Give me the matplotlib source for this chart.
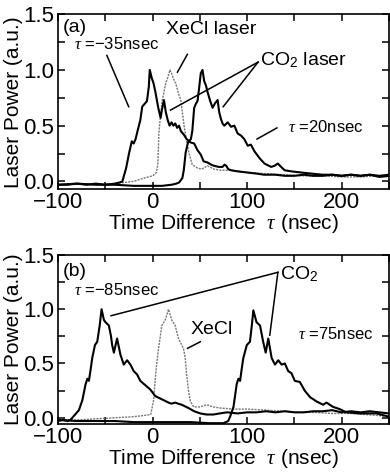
import matplotlib.pyplot as plt
from matplotlib.ticker import MultipleLocator

plt.rcParams['font.family'] = 'Liberation Sans'
plt.rcParams['mathtext.fontset'] = 'custom'
plt.rcParams['mathtext.rm'] = 'Liberation Sans'
plt.rcParams['mathtext.it'] = 'Liberation Serif:italic'

# panel (a): CO2 pulse at tau = -35 nsec
a_co2_1_t = [-100, -90, -80, -70, -60, -50, -40, -35, -32, -28, -25, -22, -20, -18, -16, -13, -11, -8, -6, -4,
             -3, -1, 1, 3, 6, 8.5, 10, 12, 14, 16, 18, 20, 22, 24, 26, 28, 30, 33, 36, 40, 44, 47.5, 51, 54, 58,
             62, 65, 70, 74, 76, 78, 80, 83, 90, 100, 110, 118, 130, 140, 150, 160, 170, 180, 190, 200, 210, 220,
             230, 240, 250]
a_co2_1_y = [-0.03, -0.03, -0.02, -0.03, -0.02, -0.03, -0.02, -0.01, 0.0, 0.12, 0.25, 0.36, 0.34, 0.38, 0.45, 0.55,
             0.67, 0.7, 0.72, 0.85, 1.0, 0.93, 0.88, 0.8, 0.66, 0.57, 0.65, 0.73, 0.62, 0.55, 0.5, 0.53, 0.5, 0.52,
             0.48, 0.5, 0.45, 0.42, 0.38, 0.35, 0.34, 0.28, 0.24, 0.18, 0.17, 0.15, 0.14, 0.13, 0.13, 0.15, 0.14,
             0.11, 0.10, 0.09, 0.08, 0.07, 0.06, 0.06, 0.05, 0.05, 0.06, 0.05, 0.05, 0.06, 0.05, 0.06, 0.05, 0.06,
             0.05, 0.06]

# panel (a): CO2 pulse at tau = 20 nsec
a_co2_2_t = [-100, -80, -60, -40, -20, 0, 10, 20, 25, 28, 31.5, 33, 35, 37.5, 40.5, 42, 44, 46, 47.5, 49, 51, 52.8,
             54.6, 56.5, 58.2, 61, 63.5, 66, 68.8, 70.5, 72.3, 74, 75.9, 79.5, 83, 86.5, 90, 93.7, 97, 100.7, 104,
             107.8, 113, 118.4, 125.5, 129, 132.6, 136, 139.7, 146.8, 157, 168, 180, 190, 200, 210, 220, 230, 240, 250]
a_co2_2_y = [-0.03, -0.02, -0.03, -0.03, -0.04, -0.04, -0.04, -0.03, -0.02, -0.01, 0.03, 0.1, 0.26, 0.35, 0.38, 0.45,
             0.66, 0.7, 0.72, 0.82, 0.97, 1.0, 0.9, 0.86, 0.8, 0.72, 0.66, 0.70, 0.73, 0.62, 0.56, 0.52, 0.5, 0.53,
             0.49, 0.5, 0.43, 0.41, 0.38, 0.32, 0.33, 0.27, 0.21, 0.16, 0.13, 0.14, 0.16, 0.13, 0.1, 0.09, 0.08, 0.07,
             0.06, 0.06, 0.05, 0.06, 0.05, 0.06, 0.04, 0.05]

# panel (a): XeCl pulse
a_xecl_t = [-100, -80, -60, -40, -30, -20, -9, 0, 1.4, 4, 5.5, 6.7, 8.5, 10.3, 12, 13.8, 16, 18.4, 20, 22, 24.5, 27,
            29.8, 31.5, 33.3, 36, 38.6, 42, 47.5, 52, 58, 65, 72, 83, 100, 118, 140, 160, 180, 200, 220, 240, 250]
a_xecl_y = [-0.03, -0.02, -0.03, -0.02, -0.01, 0.0, 0.03, 0.05, 0.06, 0.08, 0.15, 0.44, 0.6, 0.73, 0.8, 0.88, 0.93,
            1.0, 0.97, 0.92, 0.88, 0.8, 0.73, 0.62, 0.5, 0.36, 0.25, 0.15, 0.12, 0.11, 0.14, 0.11, 0.1, 0.1, 0.08,
            0.07, 0.06, 0.05, 0.05, 0.04, 0.04, 0.05, 0.04]

# panel (b): CO2 pulse at tau = -85 nsec
b_co2_1_t = [-100, -95, -90, -87, -85, -81, -78, -74.4, -70.9, -69, -67.4, -65.5, -63.9, -61, -58.6, -56, -54, -51.5,
             -49.8, -46.3, -44, -42.8, -41, -37.6, -34, -30.5, -27, -23.5, -20, -16.5, -13, -7.7, -2.4, 2.8, 9.8,
             16.8, 20, 23.9, 27, 30.8, 37.9, 44, 50.5, 57, 64.5, 71, 79, 90, 100, 110, 120, 130, 140, 150, 160, 170,
             180, 190, 200, 210, 220, 230, 240, 250]
b_co2_1_y = [-0.03, -0.02, -0.03, -0.02, 0.0, 0.04, 0.07, 0.16, 0.31, 0.36, 0.34, 0.45, 0.55, 0.67, 0.7, 0.85, 1.0,
             0.9, 0.88, 0.85, 0.75, 0.67, 0.6, 0.73, 0.58, 0.49, 0.53, 0.49, 0.43, 0.40, 0.34, 0.30, 0.26, 0.2, 0.17,
             0.14, 0.13, 0.14, 0.13, 0.12, 0.09, 0.06, 0.04, 0.03, 0.03, 0.04, 0.05, 0.04, 0.05, 0.05, 0.06, 0.05,
             0.06, 0.05, 0.05, 0.06, 0.06, 0.07, 0.05, 0.06, 0.05, 0.06, 0.05, 0.04]

# panel (b): XeCl pulse
b_xecl_t = [-100, -80, -60, -40, -20, -10, -2, 1, 3.5, 6.3, 9.8, 13.4, 16.8, 20.3, 23.9, 27.4, 32.6, 34.5, 36, 38, 40,
            43.5, 50, 57.5, 64, 71.5, 85, 100, 120, 140, 155, 170, 190, 210, 225, 240, 250]
b_xecl_y = [-0.02, -0.02, -0.01, 0.0, 0.01, 0.02, 0.03, 0.16, 0.43, 0.64, 0.85, 0.9, 1.0, 0.9, 0.85, 0.73, 0.64, 0.55,
            0.4, 0.25, 0.15, 0.1, 0.1, 0.12, 0.1, 0.09, 0.08, 0.08, 0.07, 0.06, 0.05, 0.05, 0.04, 0.04, 0.03, 0.02, 0.01]

# panel (b): CO2 pulse at tau = 75 nsec
b_co2_2_t = [-100, -80, -60, -40, -20, 0, 20, 40, 60, 75, 80, 82, 85.6, 89, 90.8, 92.6, 94.3, 96, 99.7, 103, 105,
             106.6, 110, 113.7, 117, 119.7, 122.4, 126, 129.5, 133, 136.5, 140, 143.5, 147, 150.5, 155.8, 161, 166.6,
             173.6, 180.5, 184, 191, 198, 205, 219, 237, 250]
b_co2_2_y = [-0.02, -0.03, -0.03, -0.03, -0.04, -0.04, -0.04, -0.04, -0.05, -0.05, -0.03, 0.01, 0.1, 0.31, 0.36, 0.34,
             0.45, 0.55, 0.67, 0.7, 0.85, 0.99, 0.88, 0.85, 0.7, 0.6, 0.73, 0.55, 0.49, 0.53, 0.49, 0.5, 0.43, 0.41,
             0.34, 0.33, 0.25, 0.19, 0.15, 0.12, 0.14, 0.1, 0.08, 0.05, 0.04, 0.04, 0.01]

fig = plt.figure(figsize=(3.9, 4.73), dpi=100)
ax1 = fig.add_axes([0.149, 0.600, 0.848, 0.370])
ax2 = fig.add_axes([0.149, 0.103, 0.848, 0.358])

co2_style = dict(color='black', lw=1.5)
xecl_style = dict(color='#777777', lw=1.0, linestyle=(0, (1.5, 0.8)))

ax1.plot(a_xecl_t, a_xecl_y, **xecl_style)
ax1.plot(a_co2_1_t, a_co2_1_y, **co2_style)
ax1.plot(a_co2_2_t, a_co2_2_y, **co2_style)

ax2.plot(b_xecl_t, b_xecl_y, **xecl_style)
ax2.plot(b_co2_1_t, b_co2_1_y, **co2_style)
ax2.plot(b_co2_2_t, b_co2_2_y, **co2_style)

for ax, ylo in [(ax1, -0.07), (ax2, -0.06)]:
    ax.set_xlim(-100, 250)
    ax.set_ylim(ylo, 1.5)
    ax.xaxis.set_major_locator(MultipleLocator(100))
    ax.xaxis.set_minor_locator(MultipleLocator(50))
    ax.yaxis.set_major_locator(MultipleLocator(0.5))
    ax.yaxis.set_minor_locator(MultipleLocator(0.25))
    ax.yaxis.set_major_formatter(plt.FormatStrFormatter('%.1f'))
    ax.tick_params(which='both', direction='in', top=True, right=True, width=1.1, labelsize=16)
    ax.tick_params(axis='x', pad=2)
    ax.tick_params(axis='y', pad=3)
    ax.tick_params(which='both', length=5)
    for s in ax.spines.values():
        s.set_linewidth(1.2)
    ax.set_ylabel('Laser Power (a.u.)', fontsize=15, labelpad=0)
    ax.set_xlabel(r'Time Difference  $\tau$ (nsec)', fontsize=15, labelpad=-1)

line_kw = dict(color='black', lw=1.1)

# annotations panel (a)
ax1.text(-95, 1.38, '(a)', fontsize=14, va='center')
ax1.text(-83, 1.23, r'$\tau$ =−35nsec', fontsize=12, va='center')
ax1.plot([-48.4, -25.3], [1.13, 0.67], **line_kw)
ax1.text(13.7, 1.36, 'XeCl laser', fontsize=14, va='center')
ax1.plot([36.8, 26.3], [1.14, 0.98], **line_kw)
ax1.text(113.7, 1.09, r'CO$_2$ laser', fontsize=14, va='center')
ax1.plot([111.6, 19], [1.07, 0.64], **line_kw)
ax1.plot([111.6, 74.7], [1.07, 0.67], **line_kw)
ax1.text(143, 0.49, r'$\tau$ =20nsec', fontsize=12, va='center')
ax1.plot([131.6, 110.5], [0.48, 0.38], **line_kw)

# annotations panel (b)
ax2.text(-95, 1.35, '(b)', fontsize=14, va='center')
ax2.text(-83, 1.18, r'$\tau$ =−85nsec', fontsize=12, va='center')
ax2.text(135, 1.32, r'CO$_2$', fontsize=14, va='center')
ax2.plot([132.6, -44], [1.34, 0.94], **line_kw)
ax2.plot([132.6, 124], [1.34, 0.76], **line_kw)
ax2.text(40, 0.81, 'XeCl', fontsize=14, va='center')
ax2.plot([50.5, 37], [0.70, 0.64], **line_kw)
ax2.text(153.7, 0.77, r'$\tau$ =75nsec', fontsize=12, va='center')

fig.savefig('out.png', dpi=100)
